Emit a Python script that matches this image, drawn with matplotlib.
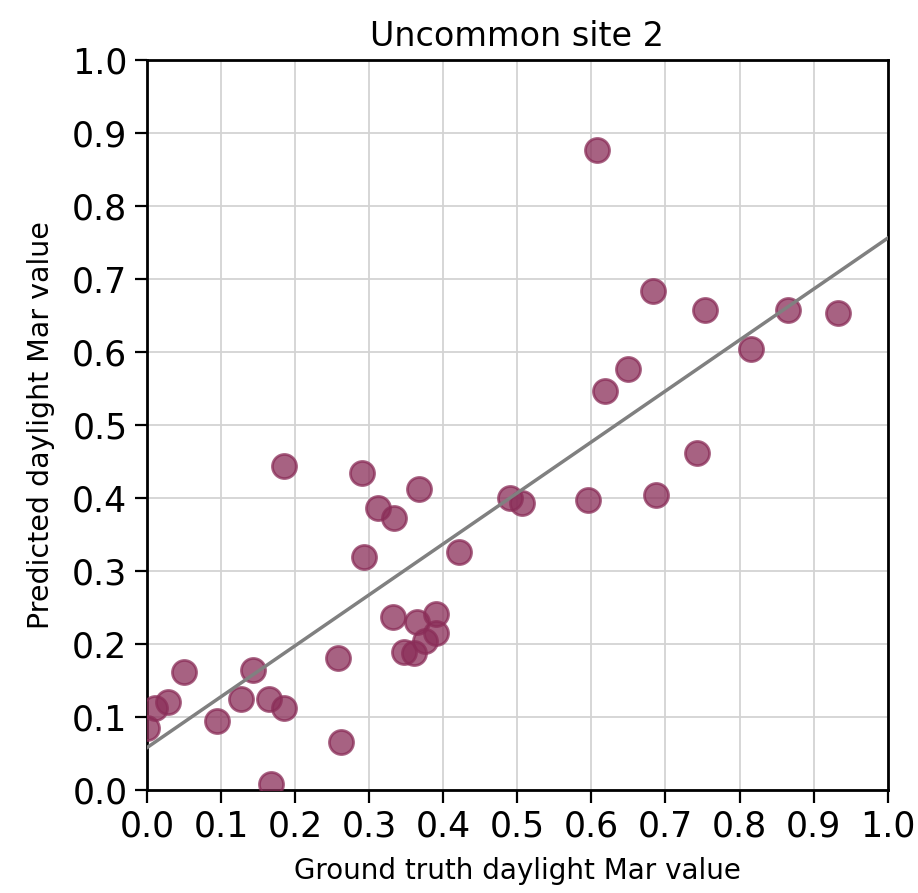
import matplotlib
matplotlib.use("Agg")
import matplotlib.pyplot as plt
import numpy as np

title = "Uncommon site 2"
xlabel = "Ground truth daylight Mar value"
ylabel = "Predicted daylight Mar value"

ground_truth = [0.000, 0.011, 0.028, 0.050, 0.094, 0.127, 0.143, 0.165, 0.185, 0.167,
                0.185, 0.258, 0.262, 0.290, 0.293, 0.312, 0.333, 0.332, 0.347, 0.360,
                0.364, 0.367, 0.375, 0.390, 0.390, 0.421, 0.490, 0.507, 0.595, 0.607,
                0.618, 0.649, 0.683, 0.687, 0.742, 0.754, 0.815, 0.865, 0.933]
predicted = [0.085, 0.112, 0.120, 0.162, 0.095, 0.125, 0.164, 0.125, 0.112, 0.008,
             0.444, 0.181, 0.066, 0.434, 0.319, 0.386, 0.373, 0.237, 0.189, 0.188,
             0.230, 0.412, 0.204, 0.215, 0.241, 0.326, 0.400, 0.393, 0.397, 0.877,
             0.547, 0.577, 0.684, 0.404, 0.462, 0.658, 0.604, 0.658, 0.653]

fit_intercept = 0.058
fit_slope = 0.698

ticks = [0.0, 0.1, 0.2, 0.3, 0.4, 0.5, 0.6, 0.7, 0.8, 0.9, 1.0]

fig = plt.figure(figsize=(9.18, 8.93), dpi=100)
ax = fig.add_axes([0.160, 0.1153, 0.807, 0.8175])

ax.grid(True, color="#d3d3d3", linewidth=1.3, zorder=0)
ax.set_axisbelow(True)

ax.scatter(ground_truth, predicted, s=300, c="#8a2d58", alpha=0.75,
           edgecolors="#8a2d58", linewidths=2.0, zorder=3)

xs = np.array([0.0, 1.0])
ax.plot(xs, fit_intercept + fit_slope * xs, color="#808080", linewidth=2.5, zorder=4)

ax.set_xlim(0, 1)
ax.set_ylim(0, 1)
ax.set_xticks(ticks)
ax.set_yticks(ticks)
ax.set_xticklabels([f"{t:.1f}" for t in ticks])
ax.set_yticklabels([f"{t:.1f}" for t in ticks])
ax.tick_params(axis="both", labelsize=25, length=9, width=1.6, pad=5)
for sp in ax.spines.values():
    sp.set_linewidth(2.0)

ax.set_xlabel(xlabel, fontsize=20, labelpad=10)
ax.set_ylabel(ylabel, fontsize=20.5, labelpad=12)
ax.set_title(title, fontsize=24, pad=10)

fig.savefig("out.png", dpi=100)
